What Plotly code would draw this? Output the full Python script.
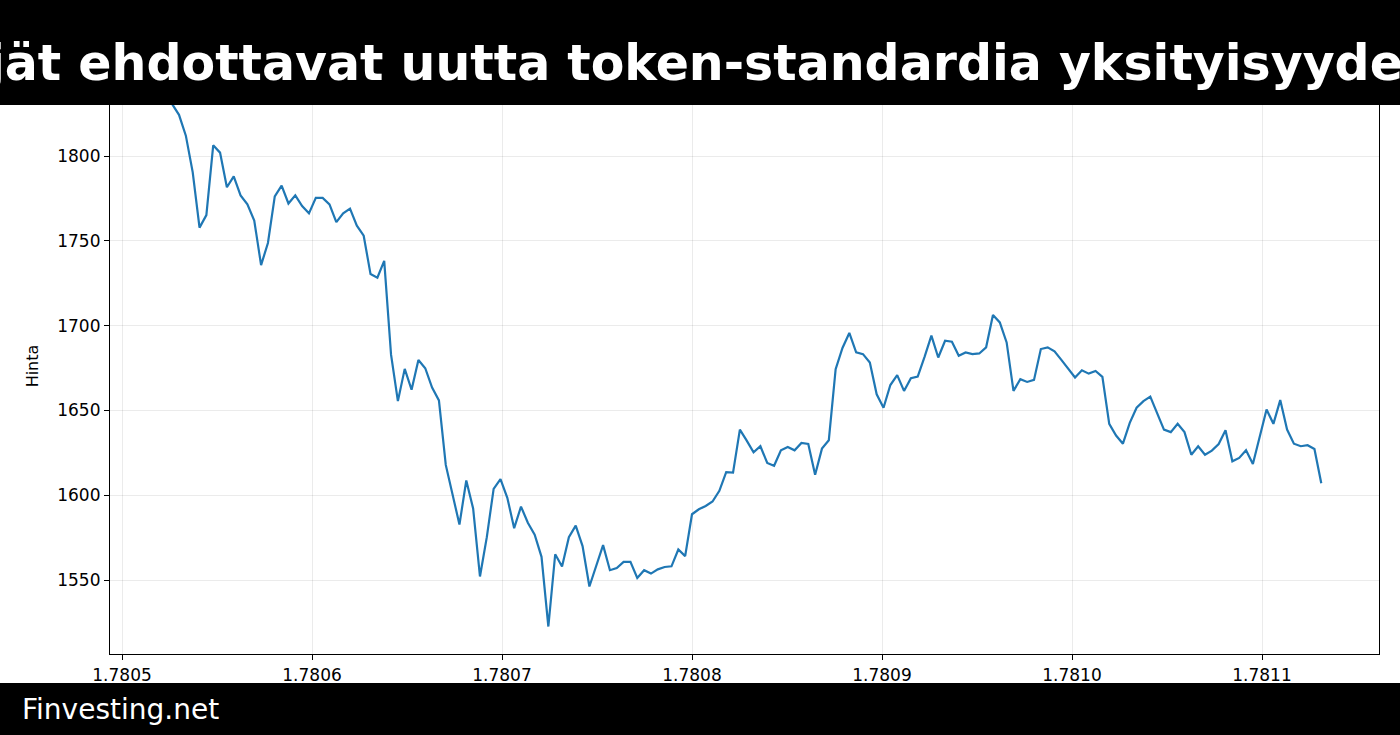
import plotly.graph_objects as go

# hourly timestamps (seconds), shown on the axis in units of 1e9 s
start_ts = 1780526400
step_s = 3600

prices = [
    1830.6, 1824.3, 1812.0, 1790.5, 1757.8, 1765.2, 1806.3, 1802.0, 1781.6, 1788.0,
    1776.8, 1771.5, 1762.0, 1735.7, 1748.7, 1776.2, 1782.5, 1772.0, 1776.8, 1770.5,
    1766.2, 1775.3, 1775.3, 1771.5, 1761.0, 1766.2, 1769.0, 1758.9, 1753.0, 1730.4,
    1728.3, 1738.2, 1682.9, 1655.5, 1674.5, 1662.2, 1679.7, 1674.9, 1663.5, 1655.9,
    1617.9, 1599.6, 1582.7, 1608.7, 1592.2, 1552.1, 1575.3, 1603.8, 1609.5, 1598.5,
    1580.6, 1593.3, 1583.8, 1576.8, 1563.7, 1522.6, 1565.2, 1558.0, 1575.3, 1582.1,
    1570.0, 1546.2, 1558.4,
    1570.6, 1555.8, 1557.1, 1560.7, 1560.7, 1551.2, 1555.8, 1553.8, 1556.3, 1557.7,
    1558.1, 1568.0, 1564.1, 1588.8, 1591.7, 1593.7, 1596.3, 1602.6, 1613.6, 1613.3,
    1638.7, 1632.2, 1625.3, 1628.9, 1619.0, 1617.4, 1626.5, 1628.5, 1626.5, 1630.8,
    1630.2, 1612.1, 1627.5, 1632.4, 1674.3, 1686.8, 1695.7, 1684.2, 1683.2, 1678.3,
    1659.5, 1651.6, 1665.0, 1670.8, 1661.5, 1669.0, 1670.0, 1681.6, 1694.1, 1681.2,
    1691.1, 1690.5, 1682.2, 1684.2, 1683.2, 1683.6,
    1687.2, 1706.3, 1701.9, 1690.1, 1661.5, 1668.4, 1666.8, 1668.0, 1686.2, 1687.2,
    1684.8, 1679.8, 1674.7, 1669.4, 1673.7, 1671.7, 1673.3, 1669.8, 1642.1, 1635.2,
    1630.4, 1642.7, 1651.6, 1655.5, 1658.1, 1648.0, 1638.7, 1637.2, 1642.1, 1637.2,
    1623.9, 1628.9, 1623.9, 1626.3, 1630.2, 1638.3, 1620.0, 1622.0, 1626.5, 1618.4,
    1634.4, 1650.6, 1642.1, 1656.1, 1638.7, 1630.4, 1628.9, 1629.5, 1627.3, 1607.1,
]
timestamps = [start_ts + i * step_s for i in range(len(prices))]
x_vals = [t / 1e9 for t in timestamps]

y_ticks = [1550, 1600, 1650, 1700, 1750, 1800]
x_ticks = [1.7805, 1.7806, 1.7807, 1.7808, 1.7809, 1.7810, 1.7811]
x_tick_labels = ["1.7805", "1.7806", "1.7807", "1.7808", "1.7809", "1.7810", "1.7811"]

title_text = "Kehittäjät ehdottavat uutta token-standardia yksityisyyden vuoksi"
footer_text = "Finvesting.net"

PLOT_H = 576
PLOT_W = 1269

fig = go.Figure()
fig.add_trace(go.Scatter(
    x=x_vals, y=prices, mode='lines',
    line=dict(color='#1f77b4', width=2.2),
    hoverinfo='skip'
))

axis_common = dict(
    showline=True, linecolor='black', linewidth=1.2, mirror=True,
    ticks='outside', ticklen=5, tickcolor='black',
    showgrid=True, gridcolor='rgba(0,0,0,0.08)', gridwidth=1,
    zeroline=False, tickfont=dict(family='DejaVu Sans', size=17, color='black'),
)

fig.update_xaxes(range=[1.78049368, 1.78116158], tickvals=x_ticks,
                 ticktext=x_tick_labels, **axis_common)
fig.update_yaxes(range=[1506.4, 1846.0], tickvals=y_ticks,
                 title=dict(text='Hinta', font=dict(family='DejaVu Sans', size=16, color='black'),
                            standoff=14),
                 **axis_common)

fig.update_layout(
    width=1400, height=735,
    margin=dict(l=110, r=21, t=78, b=81),
    paper_bgcolor='white', plot_bgcolor='white',
    showlegend=False,
    shapes=[
        dict(type='rect', xref='paper', yref='paper', x0=-0.2, x1=1.2,
             y0=1 + (78 - 105) / PLOT_H, y1=1 + 78 / PLOT_H,
             fillcolor='black', line=dict(width=0), layer='above'),
        dict(type='rect', xref='paper', yref='paper', x0=-0.2, x1=1.2,
             y0=-81 / PLOT_H, y1=-(683 - 654) / PLOT_H,
             fillcolor='black', line=dict(width=0), layer='above'),
    ],
    annotations=[
        dict(text=f'<b>{title_text}</b>', xref='paper', yref='paper',
             x=(710 - 110) / PLOT_W, y=1 + (78 - 64) / PLOT_H, xanchor='center', yanchor='middle',
             showarrow=False, font=dict(family='DejaVu Sans', size=49, color='white')),
        dict(text=footer_text, xref='paper', yref='paper',
             x=(20 - 110) / PLOT_W, y=-(709 - 654) / PLOT_H, xanchor='left', yanchor='middle',
             showarrow=False, font=dict(family='DejaVu Sans', size=28, color='white')),
    ],
)

fig.write_html("out.html", config={'displayModeBar': False},
               post_script="document.body.style.margin='0';")
